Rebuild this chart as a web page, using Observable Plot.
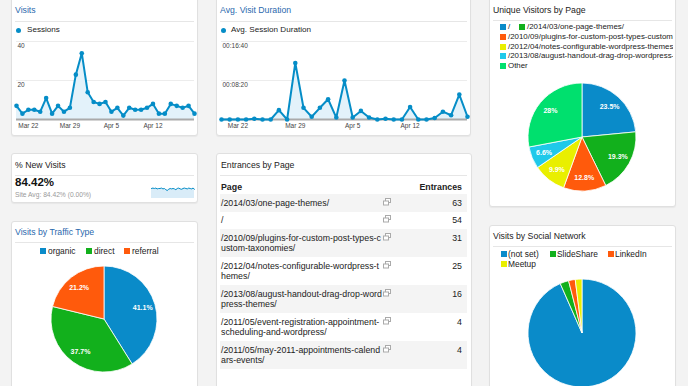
<!DOCTYPE html>
<html><head><meta charset="utf-8">
<script src="https://cdn.jsdelivr.net/npm/d3@7"></script>
<script src="https://cdn.jsdelivr.net/npm/@observablehq/plot@0.6"></script>
<style>
body{margin:0;width:688px;height:386px;overflow:hidden;background:#f3f3f3;position:relative;font-family:"Liberation Sans",Arial,sans-serif;color:#222}
.panel{position:absolute;background:#fff;border:1px solid #e0e0e0;border-radius:3px;box-shadow:0 1px 1px rgba(0,0,0,.05);box-sizing:border-box}
.abs{position:absolute;white-space:nowrap;line-height:12px}
.blue{color:#2a68ad}
.sep{position:absolute;height:1px;background:#e6e6e6}
.sw{position:absolute;width:6px;height:6px}
.tbl{position:absolute;left:220px;top:181px;width:247px;font-size:8.8px;color:#222}
.row{display:flex;padding:3.5px 0;line-height:10.5px}
.row.g{background:#f4f4f4}
.pg{width:161px;margin-left:1px;word-break:break-all}
.ic{width:12px;padding-left:1px}
.num{flex:1;text-align:right;padding-right:5px}
.hdr{display:flex;font-weight:bold;line-height:13px;color:#222}
</style></head>
<body>
<script>
// ---------- data ----------
const days = ["2014-03-20","2014-03-21","2014-03-22","2014-03-23","2014-03-24","2014-03-25","2014-03-26","2014-03-27","2014-03-28","2014-03-29","2014-03-30","2014-03-31","2014-04-01","2014-04-02","2014-04-03","2014-04-04","2014-04-05","2014-04-06","2014-04-07","2014-04-08","2014-04-09","2014-04-10","2014-04-11","2014-04-12","2014-04-13","2014-04-14","2014-04-15","2014-04-16","2014-04-17","2014-04-18","2014-04-19"];
const sessions = [7,3,5,5,4,11,3,7,4,6,23,34,14,9,8,9,4,6,2,6,5,5,6,8,3,3,8,7,6,7,3];
const durationSec = [0,0,0,0,10,0,0,120,0,725,150,35,150,260,25,500,25,110,25,0,10,0,0,160,0,0,20,100,55,320,35];
const tickDays = ["2014-03-22","2014-03-29","2014-04-05","2014-04-12"];
const tickLabels = ["Mar 22","Mar 29","Apr 5","Apr 12"];
const sessionTicks = [20,40];
const sessionTickLabels = ["20","40"];
const durationTicks = [500,1000];
const durationTickLabels = ["00:08:20","00:16:40"];
const newVisitsSpark = [85,86,85,86,84,85,85,86,84,85,82,80,83,85,84,85,84,82,85,86,84,83,85,86,85,84,86,85,84,86,83];

const pageLabels = ["/","/2014/03/one-page-themes/","/2010/09/plugins-for-custom-post-types-custom-taxonomies/","/2012/04/notes-configurable-wordpress-themes/","/2013/08/august-handout-drag-drop-wordpress-themes/","Other"];
const pageShares = [23.5,19.3,12.8,9.9,6.6,28];
const trafficLabels = ["organic","direct","referral"];
const trafficShares = [41.1,37.7,21.2];
const socialLabels = ["(not set)","SlideShare","LinkedIn","Meetup"];
const socialShares = [93.4,2.6,2.0,2.0];
const palette = ["#0a8bc9","#12b01c","#ff5a0c","#e9ef00","#1fc9ea","#00e06e"];

const entrancePages = ["/2014/03/one-page-themes/","/","/2010/09/plugins-for-custom-post-types-custom-taxonomies/","/2012/04/notes-configurable-wordpress-themes/","/2013/08/august-handout-drag-drop-wordpress-themes/","/2011/05/event-registration-appointment-scheduling-and-wordpress/","/2011/05/may-2011-appointments-calendars-events/"];
const entrances = [63,54,31,25,16,4,4];

const FONT = '"Liberation Sans", Arial, sans-serif';

// ---------- helpers ----------
function el(tag, cls, style, text){const d=document.createElement(tag); if(cls)d.className=cls; if(style)Object.assign(d.style,style); if(text!=null)d.textContent=text; document.body.appendChild(d); return d;}
function panel(l,t,w,h){el("div","panel",{left:l+"px",top:t+"px",width:w+"px",height:h+"px"});}
function txt(x,cy,s,size,cls,extra){return el("div","abs "+(cls||""),Object.assign({left:x+"px",top:(cy-6)+"px",fontSize:size+"px"},extra||{}),s);}
function sep(x1,x2,y){el("div","sep",{left:x1+"px",top:y+"px",width:(x2-x1)+"px"});}
function sw(x,cy,c){el("div","sw",{left:x+"px",top:(cy-3)+"px",background:c});}
function place(svg,l,t){svg.style.position="absolute";svg.style.left=l+"px";svg.style.top=t+"px";svg.style.maxWidth="none";document.body.appendChild(svg);}

function lineChart(values,yMax,yTicks,yLabels,width){
  const data = days.map((d,i)=>({date:new Date(d), v:values[i]}));
  const ticks = tickDays.map((d,i)=>({date:new Date(d), label:tickLabels[i]}));
  const yt = yTicks.map((v,i)=>({v, label:yLabels[i]}));
  return Plot.plot({
    width, height:100, marginTop:5, marginLeft:2, marginRight:4, marginBottom:17,
    x:{type:"utc", domain:[data[0].date, data[data.length-1].date], axis:null},
    y:{domain:[0,yMax], axis:null},
    style:{fontFamily:FONT, background:"transparent", overflow:"visible"},
    marks:[
      Plot.ruleY(yTicks,{stroke:"#ececec"}),
      Plot.areaY(data,{x:"date", y:"v", fill:"#e3f2fa"}),
      Plot.ruleY([0],{stroke:"#aaa", strokeWidth:2}),
      Plot.lineY(data,{x:"date", y:"v", stroke:"#058dc7", strokeWidth:2}),
      Plot.dot(data,{x:"date", y:"v", r:2.3, fill:"#058dc7"}),
      Plot.text(ticks,{x:"date", text:"label", frameAnchor:"bottom", lineAnchor:"top", dy:4, fontSize:6.5, fill:"#444"}),
      Plot.text(yt,{y:"v", text:"label", frameAnchor:"left", textAnchor:"start", lineAnchor:"top", dy:2, dx:1, fontSize:6.5, fill:"#444"})
    ]
  });
}

function pieChart(labels, values, colors, size, r, showLabels){
  const data = labels.map((label,i)=>({label, value:values[i]}));
  return Plot.plot({
    width:size, height:size, margin:0,
    style:{fontFamily:FONT, background:"transparent", overflow:"visible"},
    color:{domain:labels, range:colors},
    marks:[
      (index, scales, channels, dims) => {
        const cx = dims.width/2, cy = dims.height/2;
        const arcs = d3.pie().sort(null).value(d=>d.value)(data);
        const arc = d3.arc().innerRadius(0).outerRadius(r);
        const g = d3.create("svg:g").attr("transform",`translate(${cx},${cy})`);
        const col = (l,i) => (scales && scales.color) ? scales.color(l) : colors[i];
        g.selectAll("path").data(arcs).join("path").attr("d",arc)
          .attr("fill",(d,i)=>col(d.data.label,i)).attr("stroke","#fff").attr("stroke-width",0.8);
        if(showLabels){
          const la = d3.arc().innerRadius(r*0.76).outerRadius(r*0.76);
          g.selectAll("text").data(arcs).join("text")
            .attr("transform",d=>`translate(${la.centroid(d)})`)
            .attr("text-anchor","middle").attr("dy","0.35em")
            .attr("fill","#fff").attr("font-weight","bold").attr("font-size",7)
            .text(d=>d.data.value+"%");
        }
        return g.node();
      }
    ]
  });
}

// ---------- panels ----------
panel(11,-5,187,141);
panel(216,-5,255,141);
panel(489,-5,187,212);
panel(11,153,187,50);
panel(216,153,256,250);
panel(11,221,187,180);
panel(489,225,187,180);

// Visits
txt(15,10,"Visits",8.7,"blue");
sep(15,194,21);
el("div",null,{position:"absolute",left:"15.5px",top:"27.5px",width:"5px",height:"5px",borderRadius:"50%",background:"#058dc7"});
txt(27,30,"Sessions",8.1);
place(lineChart(sessions,40,sessionTicks,sessionTickLabels,184),14,36);

// Avg visit duration
txt(220,10,"Avg. Visit Duration",8.7,"blue");
sep(220,467,21);
el("div",null,{position:"absolute",left:"220.5px",top:"27.5px",width:"5px",height:"5px",borderRadius:"50%",background:"#058dc7"});
txt(231,30,"Avg. Session Duration",8.1);
place(lineChart(durationSec,1000,durationTicks,durationTickLabels,252),219,36);

// Unique visitors by page
txt(493,10,"Unique Visitors by Page",8.7);
sep(493,672,20);
const legWrap = el("div",null,{position:"absolute",left:"489px",top:"0px",width:"184px",height:"80px",overflow:"hidden"});
function legItem(parent,x,cy,c,s,size){
  const a=document.createElement("div");Object.assign(a.style,{position:"absolute",left:x+"px",top:(cy-3)+"px",width:"6px",height:"6px",background:c});parent.appendChild(a);
  const b=document.createElement("div");b.className="abs";Object.assign(b.style,{left:(x+8)+"px",top:(cy-6)+"px",fontSize:size+"px",color:"#222"});b.textContent=s;parent.appendChild(b);
}
legItem(legWrap,11,27,palette[0],pageLabels[0],7.9);
legItem(legWrap,30,27,palette[1],pageLabels[1],7.9);
for(let i=2;i<pageLabels.length;i++) legItem(legWrap,11,27+9.8*(i-1),palette[i],pageLabels[i],7.9);
place(pieChart(pageLabels,pageShares,palette,130,54,true),582-65,137-65);

// % New Visits
txt(15,165,"% New Visits",8.7);
sep(15,194,175);
txt(15,182,"84.42%",11.5,null,{fontWeight:"bold",color:"#111"});
txt(15,195,"Site Avg: 84.42% (0.00%)",6.7,null,{color:"#999"});
place(Plot.plot({width:43,height:12,margin:0,x:{axis:null},y:{axis:null,domain:[60,90]},
  style:{background:"transparent",overflow:"visible"},
  marks:[
    Plot.areaY(newVisitsSpark,{x:(d,i)=>i,y1:60,y2:d=>d,fill:"#d9ecf8"}),
    Plot.lineY(newVisitsSpark,{x:(d,i)=>i,y:d=>d,stroke:"#058dc7",strokeWidth:1})
  ]}),151,186);

// Entrances by Page
txt(221,165,"Entrances by Page",8.7);
sep(220,467,175);
const tbl = el("div","tbl");
const hdr = document.createElement("div");hdr.className="hdr";
hdr.innerHTML='<div class="pg">Page</div><div class="ic"></div><div class="num">Entrances</div>';
tbl.appendChild(hdr);
const icon = '<svg width="8" height="8" viewBox="0 0 8 8"><rect x="2.5" y="0.5" width="5" height="4" fill="#fff" stroke="#aaa"/><rect x="0.5" y="3" width="5" height="4" fill="#fff" stroke="#aaa"/></svg>';
entrancePages.forEach((p,i)=>{
  const r=document.createElement("div");r.className="row"+(i%2===0?" g":"");
  const a=document.createElement("div");a.className="pg";a.textContent=p;
  const b=document.createElement("div");b.className="ic";b.innerHTML=icon;
  const c=document.createElement("div");c.className="num";c.textContent=entrances[i];
  r.append(a,b,c);tbl.appendChild(r);
});

// Visits by Traffic Type
txt(15,232,"Visits by Traffic Type",8.7,"blue");
sep(15,194,242);
const tx=[40,86,124];
trafficLabels.forEach((l,i)=>{sw(tx[i],251,palette[i]);txt(tx[i]+8,251,l,8.4);});
place(pieChart(trafficLabels,trafficShares,palette.slice(0,3),130,53,true),104-65,319-65);

// Visits by Social Network
txt(493,236,"Visits by Social Network",8.7);
sep(493,672,246);
const sxs=[[501,254],[550,254],[608,254],[501,264]];
socialLabels.forEach((l,i)=>{sw(sxs[i][0],sxs[i][1],palette[i]);txt(sxs[i][0]+7,sxs[i][1],l,8.4);});
place(pieChart(socialLabels,socialShares,palette.slice(0,4),130,54,false),582-65,333-65);
</script>
</body></html>
